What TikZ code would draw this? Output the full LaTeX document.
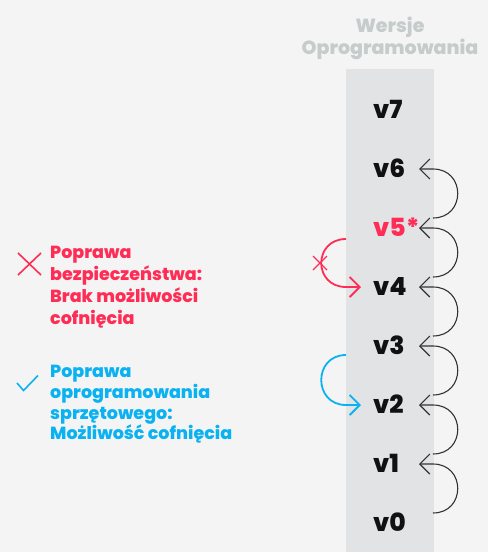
\documentclass[tikz,border=0pt]{standalone}
\usepackage{fontspec}
\setmainfont{Poppins}[BoldFont={Poppins ExtraBold}]
\usetikzlibrary{arrows.meta,calc}
\definecolor{bgc}{HTML}{F4F4F4}
\definecolor{colc}{HTML}{E2E3E5}
\definecolor{titc}{HTML}{C6CBCB}
\definecolor{inkc}{HTML}{111111}
\definecolor{arcc}{HTML}{333333}
\definecolor{redc}{HTML}{FF2D55}
\definecolor{bluec}{HTML}{0AB2F2}
\begin{document}
\begin{tikzpicture}[x=1pt,y=-1pt,
  ver/.style={anchor=base west, inner sep=0pt, font=\fontsize{25}{25}\selectfont\bfseries, text=inkc},
  blk/.style={draw=arcc, line width=1.1pt, -{Straight Barb[length=10pt,width=20pt]}},
  colarrow/.style={line width=1.8pt, -{Straight Barb[length=10pt,width=20pt]}},
  legend/.style={anchor=north west, inner sep=0pt, align=left, font=\fontsize{17.5}{22}\selectfont\bfseries},
]
\fill[bgc] (0,0) rectangle (488,552);
\useasboundingbox (0,0) rectangle (488,552);
\fill[colc] (346,69) rectangle (434,552);
\node[anchor=north, inner sep=0pt, align=center, text=titc, font=\fontsize{19}{22}\selectfont\bfseries] (title) at (390,16.5) {Wersje\\Oprogramowania};
\node[ver] (v7) at (373,118) {v7};
\node[ver] (v6) at (373,177) {v6};
\node[ver, text=redc] (v5) at (373,236) {v5*};
\node[ver] (v4) at (373,295) {v4};
\node[ver] (v3) at (373,354) {v3};
\node[ver] (v2) at (373,413) {v2};
\node[ver] (v1) at (373,472) {v1};
\node[ver] (v0) at (373,531) {v0};
\foreach \n in {7,6,5,4,3,2,1,0}{
  \coordinate (t\n) at ($(v\n.base west)+(46,-8)$);
  \coordinate (s\n) at ($(v\n.base west)+(60,-18)$);
  \coordinate (l\n) at ($(v\n.base west)+(-12,-8)$);
}
\foreach \a/\b in {6/5,5/4,4/3,3/2,2/1,1/0}{
  \draw[blk] (s\b) .. controls ($(s\b)+(33,0)$) and ($(t\a -| s\b)+(33,0)$) .. (t\a -| s\b) -- (t\a);
}
% red: v5 -> v4 blocked
\coordinate (rs) at (346,239);
\draw[colarrow, redc] (rs) .. controls ($(rs)+(-33,0)$) and ($(l4 -| rs)+(-33,0)$) .. (l4 -| rs) -- (l4);
\draw[redc, line width=1.4pt] (313,256) -- (327,270) (313,270) -- (327,256);
% blue: v3 -> v2 allowed
\coordinate (bs) at (346,355);
\draw[colarrow, bluec] (bs) .. controls ($(bs)+(-33,0)$) and ($(l2 -| bs)+(-33,0)$) .. (l2 -| bs) -- (l2);
% legend
\draw[redc, line width=1.6pt] (18,253) -- (41,275) (18,275) -- (41,253);
\node[legend, text=redc] (lred) at (50,246) {Poprawa\\bezpiecze\'nstwa:\\Brak mo\.zliwo\'sci\\cofni\k{e}cia};
\draw[bluec, line width=1.6pt] (17,383) -- (23.5,390.5) -- (38,375.5);
\node[legend, text=bluec, font=\fontsize{17.5}{20.8}\selectfont\bfseries] (lblue) at (50,365) {Poprawa\\oprogramowania\\sprz\k{e}towego:\\Mo\.zliwo\'s\'c cofni\k{e}cia};
\end{tikzpicture}
\end{document}
